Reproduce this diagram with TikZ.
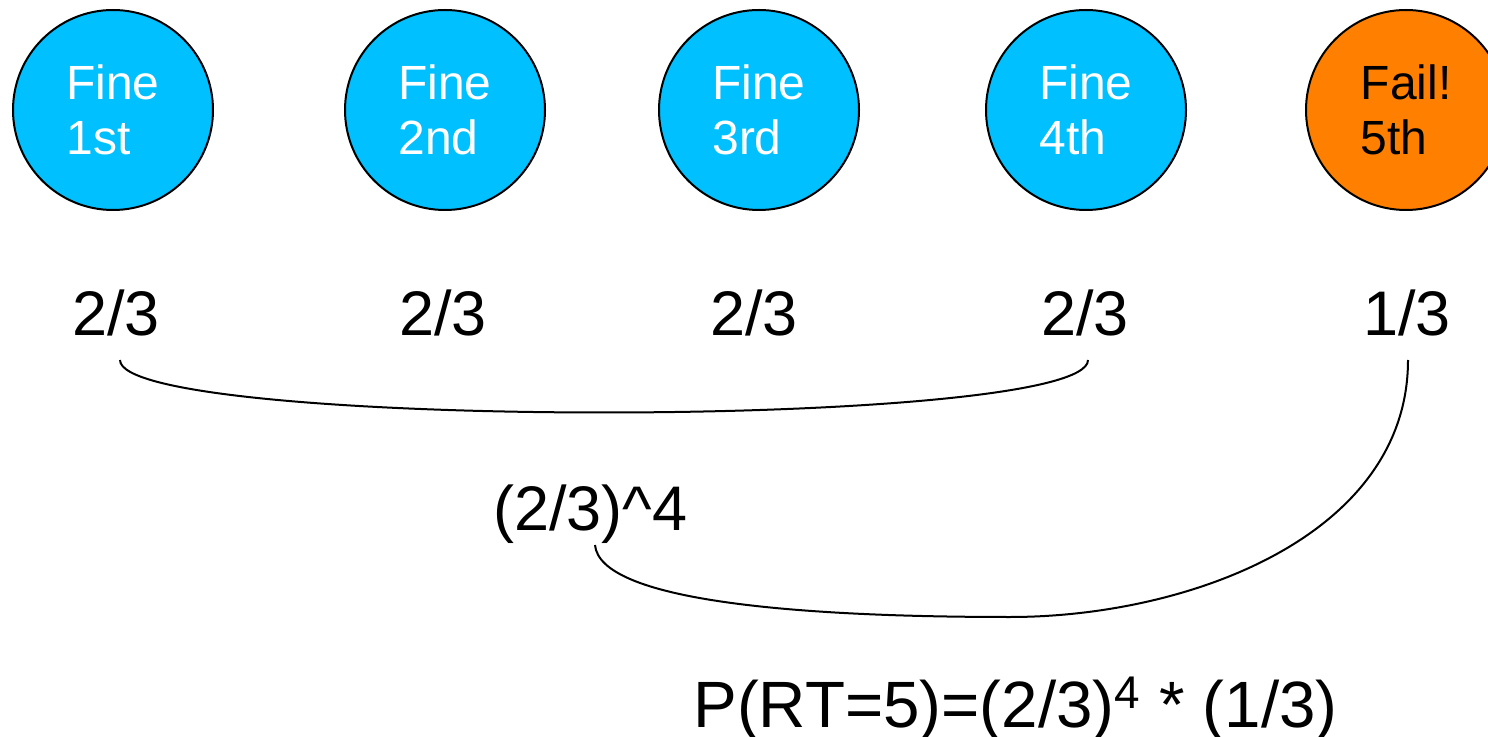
\documentclass[tikz,border=0pt]{standalone}
\usepackage{fontspec}
\setmainfont{Liberation Sans}
\usetikzlibrary{calc}
\definecolor{okblue}{RGB}{0,192,255}
\definecolor{failorange}{RGB}{255,128,0}
\begin{document}
\begin{tikzpicture}[x=0.5pt,y=-0.5pt,
  trial/.style={circle,draw=black,line width=1pt,minimum size=100pt,inner sep=0pt,
    align=left,font=\fontsize{24}{27.5}\selectfont},
  fine/.style={trial,fill=okblue,text=white},
  fail/.style={trial,fill=failorange,text=black},
  prob/.style={anchor=base,inner sep=0pt,font=\fontsize{31.5}{36}\selectfont},
  link/.style={draw=black,line width=1pt}]
\useasboundingbox (0,0) rectangle (1488,737);
\begin{scope}
\clip (0,0) rectangle (1488,737);
% the five trials
\node[fine] (f1) at (113,110) {Fine\\1st};
\node[fine] (f2) at (445,110) {Fine\\2nd};
\node[fine] (f3) at (759,110) {Fine\\3rd};
\node[fine] (f4) at (1086,110) {Fine\\4th};
\node[fail] (f5) at (1406,110) {Fail!\\5th};
\end{scope}
% per-trial probabilities
\node[prob] (p1) at (116,336) {2/3};
\node[prob] (p2) at (443,336) {2/3};
\node[prob] (p3) at (754,336) {2/3};
\node[prob] (p4) at (1085,336) {2/3};
\node[prob] (p5) at (1407,336) {1/3};
% combined results
\node[prob,anchor=base west] (pow) at (493,530) {(2/3)\^{}4};
\node[prob,anchor=base west,font=\fontsize{32.75}{38}\selectfont] (res) at (693,727)
  {P(RT=5)=(2/3)\textsuperscript{4} * (1/3)};
% braces joining the probabilities
\coordinate (a1) at ($(p1.base)+(4,24)$);
\coordinate (a4) at ($(p4.base)+(3,24)$);
\coordinate (a5) at ($(p5.base)+(1,24)$);
\coordinate (ap) at ($(pow.base west)+(102,15)$);
\draw[link] (a1) .. controls ($(a1)+(0,70)$) and ($(a4)+(0,70)$) .. (a4);
\draw[link] (a5) .. controls ($(a5)+(0,175)$) and (1190,617) .. (1010,617)
  .. controls (790,617) and (600,600) .. (ap);
\end{tikzpicture}
\end{document}
